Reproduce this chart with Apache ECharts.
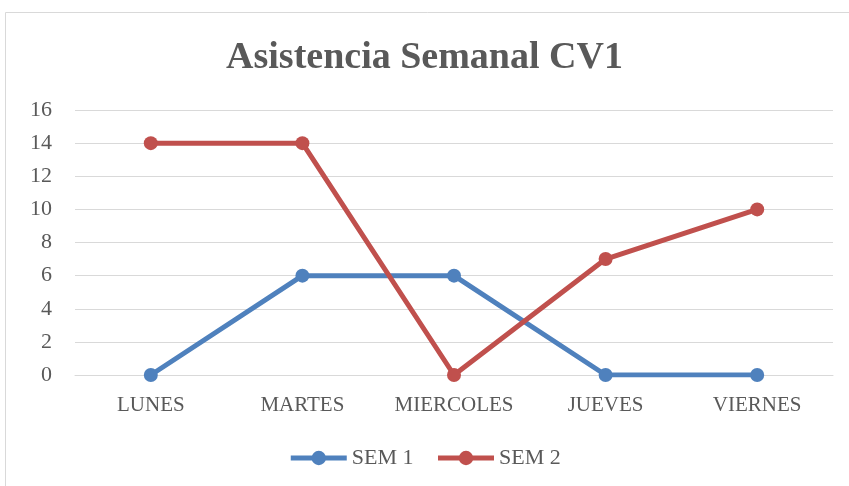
<!DOCTYPE html>
<html>
<head>
<meta charset="utf-8">
<script src="https://cdn.jsdelivr.net/npm/echarts@6/dist/echarts.min.js"></script>
<style>
  html, body { margin: 0; padding: 0; background: #fff; }
  #chart { width: 849px; height: 486px; }
</style>
</head>
<body>
<div id="chart"></div>
<script>
// datos
var dias = ['LUNES', 'MARTES', 'MIERCOLES', 'JUEVES', 'VIERNES'];
var sem1 = [0, 6, 6, 0, 0];
var sem2 = [14, 14, 0, 7, 10];

var fuente = '"Liberation Serif", "DejaVu Serif", serif';

var myChart = echarts.init(document.getElementById('chart'));

var option = {
    backgroundColor: '#fff',
    textStyle: { fontFamily: fuente },
    graphic: [{
        type: 'rect',
        shape: { x: 5.5, y: 12.5, width: 900, height: 600 },
        style: { fill: 'none', stroke: '#d9d9d9', lineWidth: 1 },
        silent: true
    }],
    title: {
        text: 'Asistencia Semanal CV1',
        left: 'center',
        top: 34,
        textStyle: {
            fontFamily: fuente,
            fontSize: 38,
            fontWeight: 'bold',
            color: '#595959'
        }
    },
    legend: {
        data: ['SEM 1', 'SEM 2'],
        bottom: 12,
        left: 'center',
        itemWidth: 56,
        itemHeight: 18,
        itemGap: 22,
        lineStyle: { width: 5 },
        textStyle: { fontFamily: fuente, fontSize: 22, color: '#595959' }
    },
    grid: {
        left: 75,
        right: 16,
        top: 110,
        bottom: 111,
        containLabel: false
    },
    xAxis: {
        type: 'category',
        data: dias,
        boundaryGap: true,
        axisLine: { show: true, lineStyle: { color: '#d9d9d9', width: 1 } },
        axisTick: { show: false },
        axisLabel: { interval: 0, fontFamily: fuente, fontSize: 21, color: '#595959', margin: 20 }
    },
    yAxis: {
        type: 'value',
        min: 0,
        max: 16,
        interval: 2,
        axisLine: { show: false },
        axisTick: { show: false },
        axisLabel: { fontFamily: fuente, fontSize: 22, color: '#595959', margin: 23 },
        splitLine: { lineStyle: { color: '#d9d9d9', width: 1 } }
    },
    series: [
        {
            name: 'SEM 1',
            type: 'line',
            data: sem1,
            symbol: 'circle',
            symbolSize: 14,
            color: '#4f81bd',
            lineStyle: { width: 5, color: '#4f81bd' },
            itemStyle: { color: '#4f81bd' }
        },
        {
            name: 'SEM 2',
            type: 'line',
            data: sem2,
            symbol: 'circle',
            symbolSize: 14,
            color: '#c0504d',
            lineStyle: { width: 5, color: '#c0504d' },
            itemStyle: { color: '#c0504d' }
        }
    ]
};

myChart.setOption(option);
</script>
</body>
</html>
